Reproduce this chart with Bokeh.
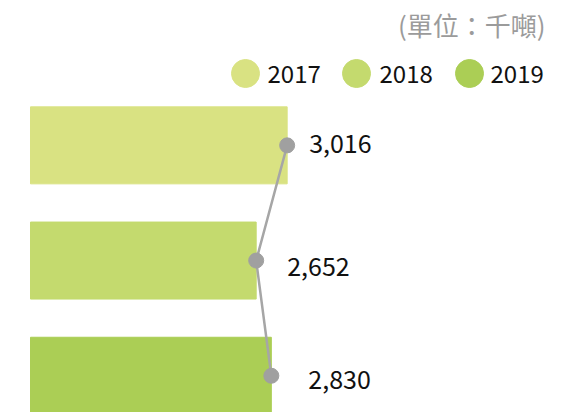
from bokeh.plotting import figure
from bokeh.models import Range1d, ColumnDataSource
from bokeh.core.properties import value
from bokeh.embed import file_html
from bokeh.resources import INLINE

# ---- data ----
years = ["2017", "2018", "2019"]
amounts = [3016, 2652, 2830]
labels = ["3,016", "2,652", "2,830"]
colors = ["#d9e282", "#c4da6e", "#abce55"]
unit_text = "(單位：千噸)"

# ---- layout helpers (pixel <-> data) ----
W, H = 573, 412
K = 0.0851          # px per unit on x
X0 = -30 / K        # x value at left frame edge
S = 115.2           # px per category step on y
Y0 = -0.319         # y value at bottom frame edge

def xd(px):  # picture pixel -> data x
    return X0 + px / K

def yd(py):  # picture pixel -> data y
    return Y0 + (H - py) / S

ypos = list(range(len(years)))[::-1]

p = figure(width=W, height=H, output_backend="svg", toolbar_location=None,
           x_range=Range1d(X0, X0 + W / K), y_range=Range1d(Y0, Y0 + H / S),
           min_border=0)
p.axis.visible = False
p.grid.visible = False
p.outline_line_color = None
p.background_fill_color = "white"
p.border_fill_color = "white"

src = ColumnDataSource(dict(y=ypos, x=amounts, color=colors, label=labels,
                            xoff=[22, 31, 37], yoff=[-2, 6, 4]))

p.hbar(y="y", left=0, right="x", height=77 / S, color="color", source=src)
p.line(x="x", y="y", line_color="#a6a6a6", line_width=2.5, source=src)
p.scatter(x="x", y="y", size=15, color="#a0a0a0", source=src)
p.text(x="x", y="y", text="label", x_offset="xoff", y_offset="yoff",
       text_font=value("Noto Sans CJK TC"), text_font_size="25px",
       text_baseline="middle", text_align="left", text_color="#111111", source=src)

# legend
leg_cx = [245, 356, 469]
leg_tx = [267, 379, 490]
lsrc = ColumnDataSource(dict(cx=[xd(v) for v in leg_cx], tx=[xd(v) for v in leg_tx],
                             y=[yd(73)] * len(years), color=colors, year=years))
p.scatter(x="cx", y="y", size=28, color="color", source=lsrc)
p.text(x="tx", y="y", text="year", text_font=value("Noto Sans CJK TC"),
       text_font_size="24px", text_baseline="middle", text_align="left",
       text_color="#111111", source=lsrc)

# unit
p.text(x=[xd(545)], y=[yd(24)], text=[unit_text], text_font=value("Noto Sans CJK TC"),
       text_font_size="26px", text_baseline="middle", text_align="right",
       text_color="#9b9b9b")

open("out.html", "w").write(file_html(p, INLINE))
